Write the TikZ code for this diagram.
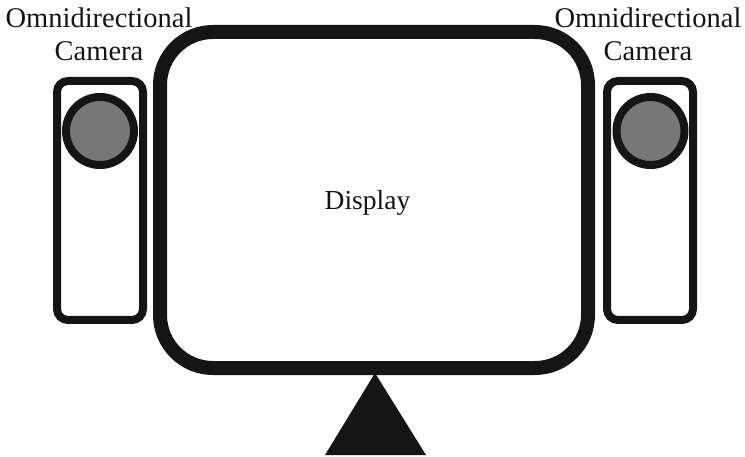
\documentclass[tikz,border=0pt]{standalone}
\usepackage{fontspec}
\setmainfont{Liberation Serif}
\definecolor{ink}{HTML}{151515}
\definecolor{lens}{HTML}{777777}
\begin{document}
\begin{tikzpicture}[x=1pt,y=-1pt,
  label/.style={font=\fontsize{28.5}{33}\selectfont, inner sep=0pt, anchor=base, text=ink},
  screen/.style={draw=ink, line width=14pt, rounded corners=53pt,
    minimum width=428pt, minimum height=336pt, inner sep=0pt},
  housing/.style={draw=ink, line width=8pt, rounded corners=11pt,
    minimum width=86pt, minimum height=239pt, inner sep=0pt},
  lensball/.style={circle, draw=ink, fill=lens, line width=8pt,
    minimum size=68pt, inner sep=0pt}]
  \useasboundingbox (0,0) rectangle (745,457);

  % display panel and stand
  \node[screen] (display) at (374,200) {};
  \node[label, font=\fontsize{27.5}{33}\selectfont] (displaytext) at (367.5,210) {Display};
  \coordinate (apex) at (375,373);
  \coordinate (baseL) at (325,455);
  \coordinate (baseR) at (426,455);
  \fill[ink] (apex) -- (baseL) -- (baseR) -- cycle;

  % left camera
  \node[housing] (camL) at (100,200.5) {};
  \node[lensball] (lensL) at (100,131) {};
  \node[label] (titleLa) at (99,28) {Omnidirectional};
  \node[label] (titleLb) at (99,61) {Camera};

  % right camera
  \node[housing] (camR) at (650,200.5) {};
  \node[lensball] (lensR) at (650.5,131) {};
  \node[label] (titleRa) at (648,28) {Omnidirectional};
  \node[label] (titleRb) at (648,61) {Camera};
\end{tikzpicture}
\end{document}
